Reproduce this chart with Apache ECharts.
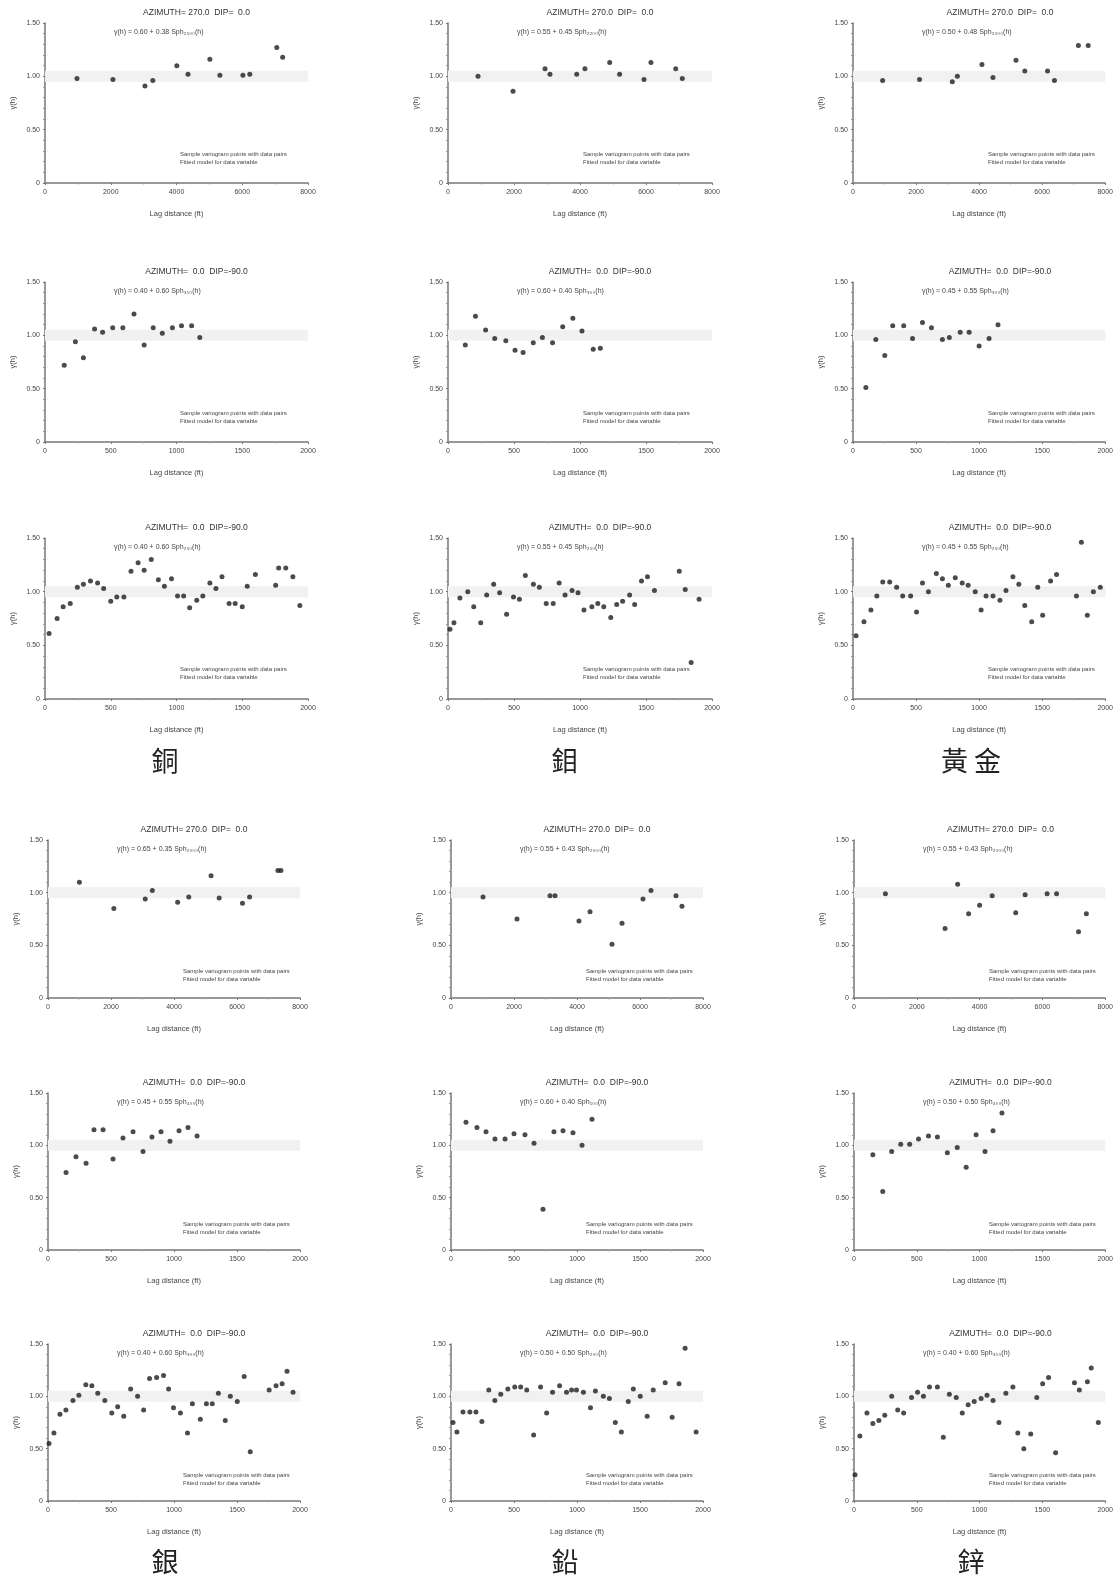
<!DOCTYPE html>
<html>
<head>
<meta charset="utf-8">
<script src="https://cdn.jsdelivr.net/npm/echarts@6/dist/echarts.min.js"></script>
<style>
html,body{margin:0;padding:0;background:#fff}
#main{width:1116px;height:1577px}
</style>
</head>
<body>
<div id="main"></div>
<script>
// ---- sample variogram points (lag distance ft, gamma) ----
var cuAzLag    = [973,2067,3040,3280,4010,4350,5015,5320,6020,6230,7050,7230];
var cuAzGamma  = [0.98,0.97,0.91,0.96,1.10,1.02,1.16,1.01,1.01,1.02,1.27,1.18];
var moAzLag    = [910,1970,2940,3090,3900,4150,4900,5200,5940,6150,6900,7100];
var moAzGamma  = [1.00,0.86,1.07,1.02,1.02,1.07,1.13,1.02,0.97,1.13,1.07,0.98];
var auAzLag    = [940,2110,3150,3310,4090,4440,5170,5450,6170,6390,7150,7460];
var auAzGamma  = [0.96,0.97,0.95,1.00,1.11,0.99,1.15,1.05,1.05,0.96,1.29,1.29];

var cuDn90Lag   = [146,231,292,377,438,515,592,677,754,823,892,969,1038,1115,1177];
var cuDn90Gamma = [0.72,0.94,0.79,1.06,1.03,1.07,1.07,1.20,0.91,1.07,1.02,1.07,1.09,1.09,0.98];
var moDn90Lag   = [131,208,285,354,438,508,569,646,715,792,869,946,1015,1100,1154];
var moDn90Gamma = [0.91,1.18,1.05,0.97,0.95,0.86,0.84,0.93,0.98,0.93,1.08,1.16,1.04,0.87,0.88];
var auDn90Lag   = [102,181,252,315,402,472,551,622,709,764,850,921,1000,1079,1150];
var auDn90Gamma = [0.51,0.96,0.81,1.09,1.09,0.97,1.12,1.07,0.96,0.98,1.03,1.03,0.90,0.97,1.10];

var cuDn45Lag   = [31,92,138,192,246,292,346,400,446,500,546,600,654,708,754,808,862,908,962,1008,1054,1100,1154,1200,1254,1300,1346,1400,1446,1500,1538,1600,1754,1777,1831,1885,1938];
var cuDn45Gamma = [0.61,0.75,0.86,0.89,1.04,1.07,1.10,1.08,1.03,0.91,0.95,0.95,1.19,1.27,1.20,1.30,1.11,1.05,1.12,0.96,0.96,0.85,0.92,0.96,1.08,1.03,1.14,0.89,0.89,0.86,1.05,1.16,1.06,1.22,1.22,1.14,0.87];
var moDn45Lag   = [15,45,90,150,195,248,293,346,391,444,496,541,586,647,692,744,797,842,887,940,985,1030,1090,1135,1180,1233,1278,1323,1376,1414,1466,1511,1564,1699,1752,1797,1842,1902];
var moDn45Gamma = [0.65,0.71,0.94,1.00,0.86,0.71,0.97,1.07,0.99,0.79,0.95,0.93,1.15,1.07,1.04,0.89,0.89,1.08,0.97,1.01,0.99,0.83,0.86,0.89,0.86,0.76,0.88,0.91,0.97,0.88,1.10,1.14,1.01,1.53,1.19,1.02,0.34,0.93];
var auDn45Lag   = [24,87,142,189,236,291,346,394,457,504,551,598,661,709,756,811,866,913,969,1016,1055,1110,1165,1213,1268,1315,1362,1417,1465,1504,1567,1614,1772,1811,1858,1906,1961];
var auDn45Gamma = [0.59,0.72,0.83,0.96,1.09,1.09,1.04,0.96,0.96,0.81,1.08,1.00,1.17,1.12,1.06,1.13,1.08,1.06,1.00,0.83,0.96,0.96,0.92,1.01,1.14,1.07,0.87,0.72,1.04,0.78,1.10,1.16,0.96,1.46,0.78,1.00,1.04];

var agAzLag    = [997,2090,3087,3312,4116,4469,5177,5434,6174,6399,7299,7395];
var agAzGamma  = [1.10,0.85,0.94,1.02,0.91,0.96,1.16,0.95,0.90,0.96,1.21,1.21];
var pbAzLag    = [1016,2095,3143,3302,4063,4413,5111,5429,6095,6349,7143,7333];
var pbAzGamma  = [0.96,0.75,0.97,0.97,0.73,0.82,0.51,0.71,0.94,1.02,0.97,0.87];
var znAzLag    = [1000,2900,3300,3650,4000,4400,5150,5450,6150,6450,7150,7400];
var znAzGamma  = [0.99,0.66,1.08,0.80,0.88,0.97,0.81,0.98,0.99,0.99,0.63,0.80];

var agDn90Lag   = [143,222,302,365,437,516,595,675,754,825,897,968,1040,1111,1183];
var agDn90Gamma = [0.74,0.89,0.83,1.15,1.15,0.87,1.07,1.13,0.94,1.08,1.13,1.04,1.14,1.17,1.09];
var pbDn90Lag   = [119,206,278,349,429,500,587,659,730,817,889,968,1040,1119];
var pbDn90Gamma = [1.22,1.17,1.13,1.06,1.06,1.11,1.10,1.02,0.39,1.13,1.14,1.12,1.00,1.25];
var znDn90Lag   = [150,229,300,372,443,514,593,664,743,822,893,972,1043,1107,1178];
var znDn90Gamma = [0.91,0.56,0.94,1.01,1.01,1.06,1.09,1.08,0.93,0.98,0.79,1.10,0.94,1.14,1.31];

var agDn45Lag   = [8,47,95,142,198,245,300,348,395,451,506,553,601,656,711,759,806,862,917,957,996,1051,1107,1146,1209,1257,1304,1352,1407,1447,1502,1557,1605,1755,1810,1858,1897,1945];
var agDn45Gamma = [0.55,0.65,0.83,0.87,0.96,1.01,1.11,1.10,1.03,0.96,0.84,0.90,0.81,1.07,1.00,0.87,1.17,1.18,1.20,1.07,0.89,0.84,0.65,0.93,0.78,0.93,0.93,1.03,0.77,1.00,0.95,1.19,0.47,1.06,1.10,1.12,1.24,1.04];
var pbDn45Lag   = [16,47,95,150,198,245,300,348,395,451,506,553,601,656,711,759,806,862,917,957,996,1051,1107,1146,1209,1257,1304,1352,1407,1447,1502,1557,1605,1700,1755,1810,1858,1945];
var pbDn45Gamma = [0.75,0.66,0.85,0.85,0.85,0.76,1.06,0.96,1.02,1.07,1.09,1.09,1.06,0.63,1.09,0.84,1.04,1.10,1.04,1.06,1.06,1.04,0.89,1.05,1.00,0.98,0.75,0.66,0.95,1.07,1.00,0.81,1.06,1.13,0.80,1.12,1.46,0.66];
var znDn45Lag   = [8,47,103,150,198,245,300,348,395,458,506,553,601,664,711,759,814,862,909,957,1012,1059,1107,1154,1209,1265,1304,1352,1407,1455,1502,1549,1605,1755,1794,1858,1889,1945];
var znDn45Gamma = [0.25,0.62,0.84,0.74,0.77,0.82,1.00,0.87,0.84,0.99,1.04,1.00,1.09,1.09,0.61,1.02,0.99,0.84,0.92,0.95,0.98,1.01,0.96,0.75,1.03,1.09,0.65,0.50,0.64,0.99,1.12,1.18,0.46,1.13,1.06,1.14,1.27,0.75];

// ---- text ----
var rowTitles = ['AZIMUTH= 270.0  DIP=  0.0', 'AZIMUTH=  0.0  DIP=-90.0', 'AZIMUTH=  0.0  DIP=-90.0',
                 'AZIMUTH= 270.0  DIP=  0.0', 'AZIMUTH=  0.0  DIP=-90.0', 'AZIMUTH=  0.0  DIP=-90.0'];
var models = [
  ['γ(h) = 0.60 + 0.38 Sph₂₅₀₀(h)', 'γ(h) = 0.55 + 0.45 Sph₂₂₀₀(h)', 'γ(h) = 0.50 + 0.48 Sph₂₀₀₀(h)'],
  ['γ(h) = 0.40 + 0.60 Sph₃₅₀(h)',  'γ(h) = 0.60 + 0.40 Sph₃₀₀(h)',  'γ(h) = 0.45 + 0.55 Sph₃₀₀(h)'],
  ['γ(h) = 0.40 + 0.60 Sph₂₅₀(h)',  'γ(h) = 0.55 + 0.45 Sph₂₅₀(h)',  'γ(h) = 0.45 + 0.55 Sph₂₅₀(h)'],
  ['γ(h) = 0.65 + 0.35 Sph₂₀₀₀(h)', 'γ(h) = 0.55 + 0.43 Sph₂₀₀₀(h)', 'γ(h) = 0.55 + 0.43 Sph₂₀₀₀(h)'],
  ['γ(h) = 0.45 + 0.55 Sph₄₀₀(h)',  'γ(h) = 0.60 + 0.40 Sph₁₀₀(h)',  'γ(h) = 0.50 + 0.50 Sph₄₀₀(h)'],
  ['γ(h) = 0.40 + 0.60 Sph₃₀₀(h)',  'γ(h) = 0.50 + 0.50 Sph₂₀₀(h)',  'γ(h) = 0.40 + 0.60 Sph₃₀₀(h)']
];
var metalNames = ['銅', '鉬', '黃 金', '銀', '鉛', '鋅'];
var legendLine1 = 'Sample variogram points with data pairs';
var legendLine2 = 'Fitted model for data variable';
var xAxisName = 'Lag distance (ft)';
var sill = 1.0;

var panelLag = [
  [cuAzLag, moAzLag, auAzLag], [cuDn90Lag, moDn90Lag, auDn90Lag], [cuDn45Lag, moDn45Lag, auDn45Lag],
  [agAzLag, pbAzLag, znAzLag], [agDn90Lag, pbDn90Lag, znDn90Lag], [agDn45Lag, pbDn45Lag, znDn45Lag]
];
var panelGamma = [
  [cuAzGamma, moAzGamma, auAzGamma], [cuDn90Gamma, moDn90Gamma, auDn90Gamma], [cuDn45Gamma, moDn45Gamma, auDn45Gamma],
  [agAzGamma, pbAzGamma, znAzGamma], [agDn90Gamma, pbDn90Gamma, znDn90Gamma], [agDn45Gamma, pbDn45Gamma, znDn45Gamma]
];
var rowXMax = [8000, 2000, 2000, 8000, 2000, 2000];
var rowXStep = [2000, 500, 500, 2000, 500, 500];

// ---- layout (px) ----
var rowTop = [23, 282, 538, 840, 1093, 1344];
var rowH = [160, 160, 161, 158, 157, 157];
var colLeft = [[45, 448, 853], [48, 451, 854]];
var colW = [[263, 264, 254], [252, 252, 253]];

var grids = [], xAxes = [], yAxes = [], series = [], titles = [];
var axisColor = '#777';
var txtFont = 'Liberation Sans';

function fmtY(v) { return v === 0 ? '0' : v.toFixed(2); }
function fmtX(v) { return String(v); }

for (var r = 0; r < 6; r++) {
  var g = r < 3 ? 0 : 1;
  for (var c = 0; c < 3; c++) {
    var i = grids.length;
    var pL = colLeft[g][c], pW = colW[g][c], pT = rowTop[r], pH = rowH[r];
    grids.push({left: pL, top: pT, width: pW, height: pH});
    xAxes.push({
      gridIndex: i, type: 'value', min: 0, max: rowXMax[r], interval: rowXStep[r],
      name: xAxisName, nameLocation: 'middle', nameGap: 27,
      nameTextStyle: {fontSize: 7.5, color: '#444', fontFamily: txtFont},
      axisLine: {onZero: false, lineStyle: {color: axisColor, width: 1.5}},
      axisTick: {show: true, length: 2, lineStyle: {color: axisColor}},
      minorTick: {show: true, splitNumber: 2, length: 1.5, lineStyle: {color: '#aaa'}},
      axisLabel: {fontSize: 7, color: '#444', margin: 6, fontFamily: txtFont, formatter: fmtX},
      splitLine: {show: false}
    });
    yAxes.push({
      gridIndex: i, type: 'value', min: 0, max: 1.5, interval: 0.5,
      name: 'γ(h)', nameLocation: 'middle', nameGap: 28,
      nameTextStyle: {fontSize: 7.5, color: '#444', fontFamily: txtFont},
      axisLine: {show: true, onZero: false, lineStyle: {color: axisColor, width: 1.5}},
      axisTick: {show: true, length: 2, lineStyle: {color: axisColor}},
      minorTick: {show: true, splitNumber: 5, length: 2, lineStyle: {color: '#999'}},
      axisLabel: {fontSize: 7, color: '#444', margin: 5, fontFamily: txtFont, formatter: fmtY},
      splitLine: {show: false}
    });
    // sill band
    series.push({
      type: 'line', xAxisIndex: i, yAxisIndex: i, silent: true, symbol: 'none', z: 1,
      data: [[0, sill], [rowXMax[r], sill]],
      lineStyle: {color: '#f1f1f1', width: 11}
    });
    var pts = panelLag[r][c].map(function (x, k) { return [x, panelGamma[r][c][k]]; });
    series.push({
      type: 'scatter', xAxisIndex: i, yAxisIndex: i, data: pts, z: 3,
      symbol: 'circle', symbolSize: 5, itemStyle: {color: '#1e1e1e'}, silent: true
    });
    titles.push({text: rowTitles[r], left: pL + pW / 2 + 15, top: pT - 20, textAlign: 'center',
      textStyle: {fontSize: 8.5, fontWeight: 'normal', color: '#333', fontFamily: txtFont}});
    titles.push({text: models[r][c], left: pL + 64, top: pT + 1,
      textStyle: {fontSize: 7, fontWeight: 'normal', color: '#444', fontFamily: txtFont}});
    titles.push({text: legendLine1 + '\n' + legendLine2, left: pL + 130, top: pT + 122,
      textStyle: {fontSize: 6, fontWeight: 'normal', color: '#444', lineHeight: 8, fontFamily: txtFont}});
  }
}

// metal labels under each group
var labelX = [160, 560, 966];
var labelY = [742, 1543];
for (var m = 0; m < 6; m++) {
  titles.push({text: metalNames[m], left: labelX[m % 3], top: labelY[Math.floor(m / 3)], textAlign: 'center',
    textStyle: {fontSize: 27, fontWeight: 'normal', color: '#222', fontFamily: 'Noto Sans CJK TC'}});
}

var myChart = echarts.init(document.getElementById('main'));
myChart.setOption({
  animation: false,
  backgroundColor: '#fff',
  title: titles,
  grid: grids,
  xAxis: xAxes,
  yAxis: yAxes,
  series: series
});
</script>
</body>
</html>
